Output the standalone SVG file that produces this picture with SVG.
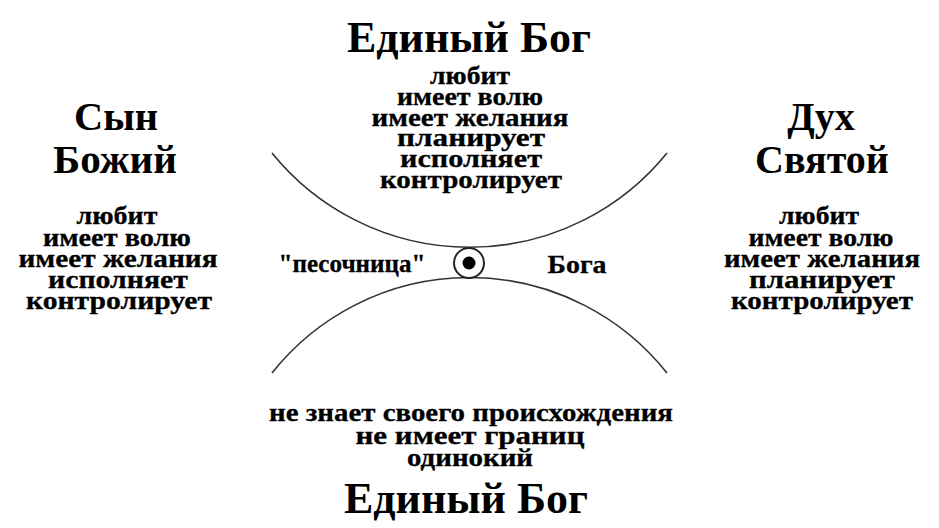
<svg xmlns="http://www.w3.org/2000/svg" width="939" height="528" viewBox="0 0 939 528">
<style>
text{font-family:'Liberation Serif','Times New Roman',serif;font-weight:700;fill:#000;text-anchor:middle}
.title{font-size:44px}
.head{font-size:40px}
.item{font-size:26px;stroke:#000;stroke-width:0.3}
.arc{fill:none;stroke:#333;stroke-width:1.6}
</style>
<rect width="939" height="528" fill="#fff"/>
<g id="connectors">
<path class="arc" d="M272,153 A254,254 0 0 0 667,153"/>
<path class="arc" d="M272,373 A252,252 0 0 1 667,373"/>
</g>
<g id="god-top">
<text class="title" x="469" y="52">Единый Бог</text>
<text class="item" x="470" y="84" textLength="80" lengthAdjust="spacingAndGlyphs">любит</text>
<text class="item" x="470" y="105" textLength="146" lengthAdjust="spacingAndGlyphs">имеет волю</text>
<text class="item" x="470" y="125.5" textLength="197" lengthAdjust="spacingAndGlyphs">имеет желания</text>
<text class="item" x="471" y="146" textLength="148" lengthAdjust="spacingAndGlyphs">планирует</text>
<text class="item" x="471" y="166.5" textLength="142" lengthAdjust="spacingAndGlyphs">исполняет</text>
<text class="item" x="471" y="187.5" textLength="182" lengthAdjust="spacingAndGlyphs">контролирует</text>
</g>
<g id="son">
<text class="head" x="116" y="130" textLength="84" lengthAdjust="spacingAndGlyphs">Сын</text>
<text class="head" x="115" y="173" textLength="124" lengthAdjust="spacingAndGlyphs">Божий</text>
<text class="item" x="117" y="224" textLength="81" lengthAdjust="spacingAndGlyphs">любит</text>
<text class="item" x="117" y="245.5" textLength="148" lengthAdjust="spacingAndGlyphs">имеет волю</text>
<text class="item" x="118" y="267" textLength="199" lengthAdjust="spacingAndGlyphs">имеет желания</text>
<text class="item" x="118" y="288" textLength="140" lengthAdjust="spacingAndGlyphs">исполняет</text>
<text class="item" x="119" y="309" textLength="186" lengthAdjust="spacingAndGlyphs">контролирует</text>
</g>
<g id="spirit">
<text class="head" x="821" y="130">Дух</text>
<text class="head" x="822" y="173">Святой</text>
<text class="item" x="819" y="224" textLength="80" lengthAdjust="spacingAndGlyphs">любит</text>
<text class="item" x="821" y="245.5" textLength="145" lengthAdjust="spacingAndGlyphs">имеет волю</text>
<text class="item" x="822" y="267" textLength="196" lengthAdjust="spacingAndGlyphs">имеет желания</text>
<text class="item" x="822" y="288" textLength="146" lengthAdjust="spacingAndGlyphs">планирует</text>
<text class="item" x="822" y="309" textLength="182" lengthAdjust="spacingAndGlyphs">контролирует</text>
</g>
<g id="sandbox">
<text class="item" x="352" y="272" textLength="147" lengthAdjust="spacingAndGlyphs">"песочница"</text>
<text class="item" x="577" y="273" textLength="59" lengthAdjust="spacingAndGlyphs">Бога</text>
<circle cx="469" cy="263" r="15" fill="#fff" stroke="#222" stroke-width="2"/>
<circle cx="469" cy="263" r="6.5" fill="#000"/>
</g>
<g id="god-bottom">
<text class="item" x="471" y="421" textLength="404" lengthAdjust="spacingAndGlyphs">не знает своего происхождения</text>
<text class="item" x="470" y="443.5" textLength="229" lengthAdjust="spacingAndGlyphs">не имеет границ</text>
<text class="item" x="470" y="466" textLength="126" lengthAdjust="spacingAndGlyphs">одинокий</text>
<text class="title" x="466" y="513">Единый Бог</text>
</g>
</svg>
